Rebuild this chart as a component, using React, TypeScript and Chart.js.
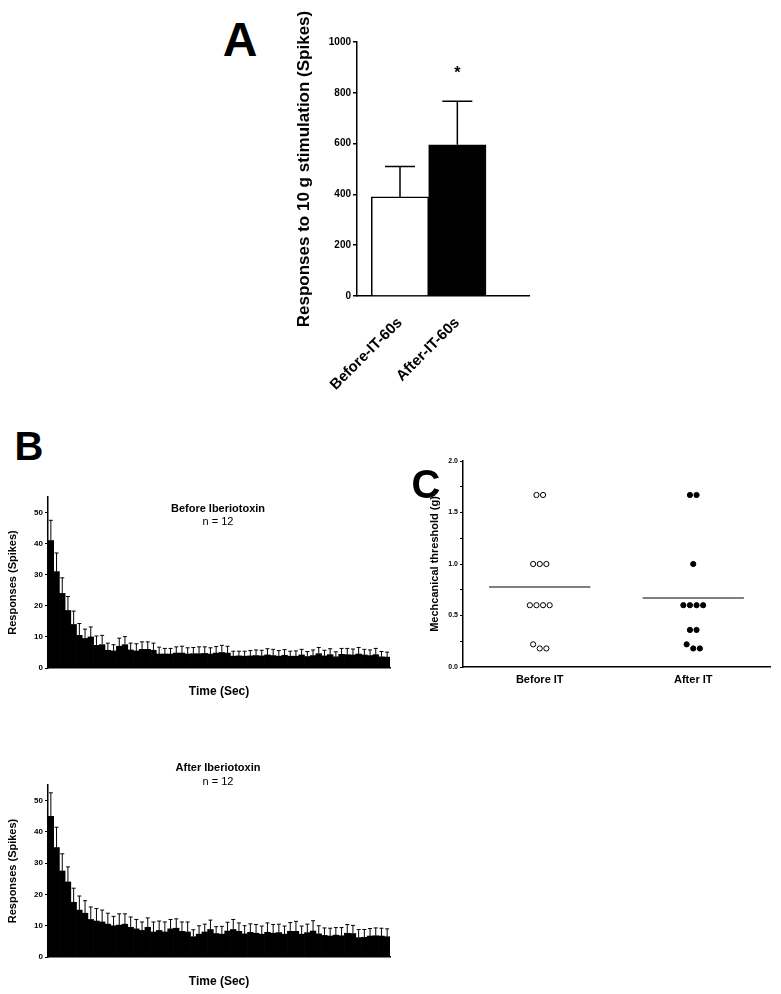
import React, { useEffect, useRef } from 'react';
import { Chart, registerables } from 'chart.js';

Chart.register(...registerables);

const FONT = '"Liberation Sans", Arial, Helvetica, sans-serif';
Chart.defaults.font.family = FONT;
Chart.defaults.color = '#000';

// ---------- Panel A ----------
const aLabels = ['Before-IT-60s', 'After-IT-60s'];
const aMeans = [390, 595];
const aErrors = [120, 172];
const aColors = ['#ffffff', '#000000'];
const aSignificance = ['', '*'];

// ---------- Panel B ----------
const bBeforeMeans = [
  41, 31, 24, 18.5, 14, 10.5, 9.5, 10, 7.3, 7.5,
  5.7, 5.5, 7, 7.5, 5.8, 5.5, 6, 6, 5.7, 4.5,
  4.5, 4.5, 4.8, 4.8, 4.5, 4.6, 4.6, 4.7, 4.5, 4.8,
  5.0, 4.8, 3.8, 3.9, 3.8, 3.9, 4.0, 3.9, 4.2, 4.0,
  3.8, 4.1, 3.8, 3.8, 4.2, 3.7, 4.0, 4.6, 3.9, 4.3,
  3.6, 4.4, 4.3, 4.2, 4.5, 4.2, 4.0, 4.3, 3.6, 3.5,
];
const bBeforeErrors = [
  6.5, 6, 5, 4.5, 4.3, 3.8, 3, 3.2, 3, 3,
  2.3, 2, 2.6, 2.6, 2.2, 2.3, 2.4, 2.4, 2.3, 2.2,
  1.8, 1.8, 2.0, 2.2, 2, 2.0, 2.2, 2.1, 2, 2.1,
  2.3, 2.2, 1.6, 1.5, 1.6, 1.7, 1.8, 1.8, 2.0, 2.0,
  1.8, 1.8, 1.6, 1.7, 1.8, 1.6, 1.8, 2.0, 1.8, 1.9,
  1.6, 1.9, 2.0, 1.9, 2.1, 1.8, 1.8, 2.0, 1.7, 1.6,
];
const bAfterMeans = [
  45, 35, 27.5, 24, 17.5, 15, 14, 12, 11.5, 11.2,
  10.5, 10, 10.2, 10.5, 9.5, 9, 8.5, 9.5, 8, 8.5,
  8, 9, 9.2, 8.2, 8, 6.5, 7.3, 8, 8.8, 7.5,
  7.3, 8.3, 8.8, 8.2, 7.4, 7.9, 7.6, 7.3, 7.9, 7.6,
  7.8, 7.3, 8.2, 8.2, 7.3, 7.8, 8.3, 7.4, 6.9, 6.7,
  7.0, 6.8, 7.6, 7.5, 6.2, 6.3, 6.7, 6.8, 6.7, 6.5,
];
const bAfterErrors = [
  7.5, 6.5, 5.5, 4.8, 4.5, 4.5, 4, 4, 4, 3.8,
  3.5, 3, 3.6, 3.3, 3.3, 3, 2.7, 3, 3.2, 3,
  3.2, 3, 3, 3, 3.2, 2.2, 2.7, 2.5, 3, 2.2,
  2.5, 2.8, 3.2, 2.7, 2.6, 2.7, 2.8, 2.6, 3, 2.8,
  2.7, 2.6, 2.8, 3.2, 2.6, 2.7, 3.3, 2.6, 2.4, 2.5,
  2.4, 2.6, 2.8, 2.6, 2.6, 2.5, 2.4, 2.5, 2.5, 2.5,
];
const bSeconds = bBeforeMeans.map((_, i) => String(i + 1));
const bYTicks = [0, 10, 20, 30, 40, 50];

// ---------- Panel C ----------
const cGroups = ['Before IT', 'After IT'];
const cBefore = [1.67, 1.67, 1.0, 1.0, 1.0, 0.6, 0.6, 0.6, 0.6, 0.22, 0.18, 0.18];
const cAfter = [1.67, 1.67, 1.0, 0.6, 0.6, 0.6, 0.6, 0.36, 0.36, 0.22, 0.18, 0.18];

// ---------- plugins ----------
const errorBars = {
  id: 'errorBars',
  afterDatasetsDraw(chart: any, _args: any, opts: any) {
    const ctx = chart.ctx;
    const yScale = chart.scales.y;
    chart.data.datasets.forEach((ds: any, di: number) => {
      if (!ds.errors) return;
      const meta = chart.getDatasetMeta(di);
      ctx.save();
      ctx.strokeStyle = opts.color || '#000';
      ctx.lineWidth = opts.lineWidth || 1;
      const half = (opts.cap || 4) / 2;
      meta.data.forEach((el: any, i: number) => {
        const raw = ds.data[i];
        const v = typeof raw === 'number' ? raw : raw.y;
        const top = yScale.getPixelForValue(v + ds.errors[i]);
        ctx.beginPath();
        ctx.moveTo(el.x, el.y);
        ctx.lineTo(el.x, top);
        ctx.moveTo(el.x - half, top);
        ctx.lineTo(el.x + half, top);
        ctx.stroke();
      });
      ctx.restore();
    });
  },
};

const starPlugin = {
  id: 'star',
  afterDatasetsDraw(chart: any, _args: any, opts: any) {
    const ctx = chart.ctx;
    const yScale = chart.scales.y;
    const ds: any = chart.data.datasets[0];
    const meta = chart.getDatasetMeta(0);
    ctx.save();
    ctx.font = `bold ${opts.size || 16}px ${FONT}`;
    ctx.textAlign = 'center';
    ctx.textBaseline = 'middle';
    ctx.fillStyle = '#000';
    meta.data.forEach((el: any, i: number) => {
      const txt = aSignificance[i];
      if (!txt) return;
      const raw = ds.data[i];
      const top = yScale.getPixelForValue(raw.y + ds.errors[i]);
      ctx.fillText(txt, el.x, top - (opts.gap || 28));
    });
    ctx.restore();
  },
};

const common = {
  responsive: false,
  animation: false as const,
  events: [] as any[],
};

// ---------- configs ----------
function configA(): any {
  return {
    type: 'bar',
    data: {
      datasets: [
        {
          data: aMeans.map((m, i) => ({ x: i + 0.75, y: m })),
          errors: aErrors,
          backgroundColor: aColors,
          borderColor: '#000',
          borderWidth: 1.5,
          barPercentage: 1,
          categoryPercentage: 1,
        },
      ],
    },
    options: {
      ...common,
      layout: { padding: { top: 42, right: 11, left: 0, bottom: 0 } },
      plugins: {
        legend: { display: false },
        tooltip: { enabled: false },
        errorBars: { cap: 30, lineWidth: 1.5 },
        star: { size: 16, gap: 28 },
      },
      scales: {
        x: {
          type: 'linear',
          min: 0,
          max: 3,
          offset: false,
          afterBuildTicks: (s: any) => {
            s.ticks = aLabels.map((_, i) => ({ value: i + 0.75 }));
          },
          afterFit: (s: any) => {
            s.height = 124;
          },
          ticks: {
            callback: (_v: any, i: number) => aLabels[i],
            maxRotation: 45,
            minRotation: 45,
            autoSkip: false,
            font: { size: 15, weight: 'bold' },
            padding: 10,
            color: '#000',
          },
          grid: { display: false, offset: false },
          border: { color: '#000', width: 1.5 },
        },
        y: {
          min: 0,
          max: 1000,
          ticks: {
            stepSize: 200,
            callback: (v: number) => String(v),
            font: { size: 10, weight: 'bold' },
            padding: 2,
            color: '#000',
          },
          grid: { drawOnChartArea: false, tickLength: 4, color: '#000', lineWidth: 1.5 },
          border: { color: '#000', width: 1.5 },
          afterFit: (s: any) => {
            s.width = 77;
          },
          title: {
            display: true,
            text: 'Responses to 10 g stimulation (Spikes)',
            font: { size: 17, weight: 'bold' },
            color: '#000',
            padding: { top: 14, bottom: 0 },
          },
        },
      },
    },
    plugins: [errorBars, starPlugin],
  };
}

function configB(means: number[], errors: number[], padTop: number, titlePadBottom: number): any {
  return {
    type: 'bar',
    data: {
      labels: bSeconds,
      datasets: [
        {
          data: means,
          errors,
          backgroundColor: '#000',
          borderWidth: 0,
          barPercentage: 1,
          categoryPercentage: 1,
        },
      ],
    },
    options: {
      ...common,
      layout: { padding: { top: padTop, right: 10, left: 0, bottom: 0 } },
      plugins: {
        legend: { display: false },
        tooltip: { enabled: false },
        errorBars: { cap: 4, lineWidth: 1 },
      },
      scales: {
        x: {
          grid: { display: false },
          ticks: { display: false },
          border: { color: '#000', width: 1.5 },
          title: {
            display: true,
            text: 'Time (Sec)',
            font: { size: 12, weight: 'bold' },
            color: '#000',
            padding: { top: 0, bottom: titlePadBottom },
          },
          afterFit: (s: any) => {
            s.height = 37;
          },
        },
        y: {
          min: 0,
          max: 55,
          afterBuildTicks: (s: any) => {
            s.ticks = bYTicks.map((v) => ({ value: v }));
          },
          ticks: { font: { size: 8, weight: 'bold' }, padding: 2, color: '#000' },
          grid: { drawOnChartArea: false, tickLength: 3, color: '#000', lineWidth: 1 },
          border: { color: '#000', width: 1.5 },
          title: {
            display: true,
            text: 'Responses (Spikes)',
            font: { size: 11, weight: 'bold' },
            color: '#000',
            padding: { top: 6, bottom: 0 },
          },
          afterFit: (s: any) => {
            s.width = 48;
          },
        },
      },
    },
    plugins: [errorBars],
  };
}

const C_SPACING = 0.043;
const C_MEAN_HALF = 0.33;

function jitter(vals: number[], center: number) {
  const groups: Record<number, number[]> = {};
  vals.forEach((v, i) => {
    const k = Math.round(v * 10);
    (groups[k] = groups[k] || []).push(i);
  });
  return vals.map((v, i) => {
    const g = groups[Math.round(v * 10)];
    const j = g.indexOf(i);
    return { x: center + (j - (g.length - 1) / 2) * C_SPACING, y: v };
  });
}

function meanLine(vals: number[], center: number) {
  const m = vals.reduce((a, b) => a + b, 0) / vals.length;
  return [
    { x: center - C_MEAN_HALF, y: m },
    { x: center + C_MEAN_HALF, y: m },
  ];
}

function configC(): any {
  return {
    type: 'scatter',
    data: {
      datasets: [
        {
          data: jitter(cBefore, 0.5),
          pointRadius: 2.6,
          pointBackgroundColor: '#fff',
          pointBorderColor: '#000',
          pointBorderWidth: 1,
        },
        {
          data: jitter(cAfter, 1.5),
          pointRadius: 2.6,
          pointBackgroundColor: '#000',
          pointBorderColor: '#000',
          pointBorderWidth: 1,
        },
        {
          type: 'line',
          data: meanLine(cBefore, 0.5),
          borderColor: '#555',
          borderWidth: 1.5,
          pointRadius: 0,
          showLine: true,
        },
        {
          type: 'line',
          data: meanLine(cAfter, 1.5),
          borderColor: '#555',
          borderWidth: 1.5,
          pointRadius: 0,
          showLine: true,
        },
      ],
    },
    options: {
      ...common,
      layout: { padding: { top: 11, right: 11, left: 0, bottom: 0 } },
      plugins: { legend: { display: false }, tooltip: { enabled: false } },
      scales: {
        x: {
          type: 'linear',
          min: 0,
          max: 2,
          afterBuildTicks: (s: any) => {
            s.ticks = cGroups.map((_, i) => ({ value: i + 0.5 }));
          },
          ticks: {
            callback: (_v: any, i: number) => cGroups[i],
            font: { size: 11, weight: 'bold' },
            padding: 6,
            autoSkip: false,
            maxRotation: 0,
            color: '#000',
          },
          grid: { display: false, drawTicks: false },
          border: { color: '#000', width: 1.5 },
          afterFit: (s: any) => {
            s.height = 33;
          },
        },
        y: {
          min: 0,
          max: 2,
          ticks: {
            stepSize: 0.25,
            callback: (v: number) => (Math.abs(v * 2 - Math.round(v * 2)) < 1e-6 ? v.toFixed(1) : ''),
            font: { size: 7, weight: 'bold' },
            padding: 2,
            color: '#000',
          },
          grid: { drawOnChartArea: false, tickLength: 3, color: '#000' },
          border: { color: '#000', width: 1.5 },
          title: {
            display: true,
            text: 'Mechcanical threshold (g)',
            font: { size: 11, weight: 'bold' },
            color: '#000',
            padding: { top: 8, bottom: 0 },
          },
          afterFit: (s: any) => {
            s.width = 43;
          },
        },
      },
    },
  };
}

// ---------- components ----------
function ChartBox(props: { left: number; top: number; width: number; height: number; make: () => any }) {
  const ref = useRef<HTMLCanvasElement | null>(null);
  useEffect(() => {
    if (!ref.current) return;
    const chart = new Chart(ref.current, props.make());
    return () => chart.destroy();
  }, []);
  return (
    <canvas
      ref={ref}
      width={props.width}
      height={props.height}
      style={{
        position: 'absolute',
        left: props.left,
        top: props.top,
        width: props.width,
        height: props.height,
        display: 'block',
      }}
    />
  );
}

function Text(props: { x: number; y: number; size: number; bold?: boolean; children: any }) {
  return (
    <div
      style={{
        position: 'absolute',
        left: props.x,
        top: props.y,
        transform: 'translate(-50%, -50%)',
        fontFamily: FONT,
        fontSize: props.size,
        fontWeight: props.bold ? 'bold' : 'normal',
        lineHeight: 1,
        whiteSpace: 'nowrap',
        color: '#000',
      }}
    >
      {props.children}
    </div>
  );
}

export default function App() {
  return (
    <div
      style={{
        position: 'absolute',
        left: 0,
        top: 0,
        width: 781,
        height: 994,
        background: '#fff',
        overflow: 'hidden',
      }}
    >
      <ChartBox left={280} top={0} width={260} height={420} make={configA} />
      <ChartBox
        left={0}
        top={480}
        width={400}
        height={225}
        make={() => configB(bBeforeMeans, bBeforeErrors, 17, 6)}
      />
      <ChartBox
        left={0}
        top={765}
        width={400}
        height={229}
        make={() => configB(bAfterMeans, bAfterErrors, 20, 5)}
      />
      <ChartBox left={420} top={450} width={361} height={250} make={configC} />

      <Text x={240} y={40} size={48} bold>A</Text>
      <Text x={29} y={446} size={40} bold>B</Text>
      <Text x={426} y={484} size={40} bold>C</Text>

      <Text x={218} y={508} size={11} bold>Before Iberiotoxin</Text>
      <Text x={218} y={521} size={11}>n = 12</Text>
      <Text x={218} y={767} size={11} bold>After Iberiotoxin</Text>
      <Text x={218} y={781} size={11}>n = 12</Text>
    </div>
  );
}
